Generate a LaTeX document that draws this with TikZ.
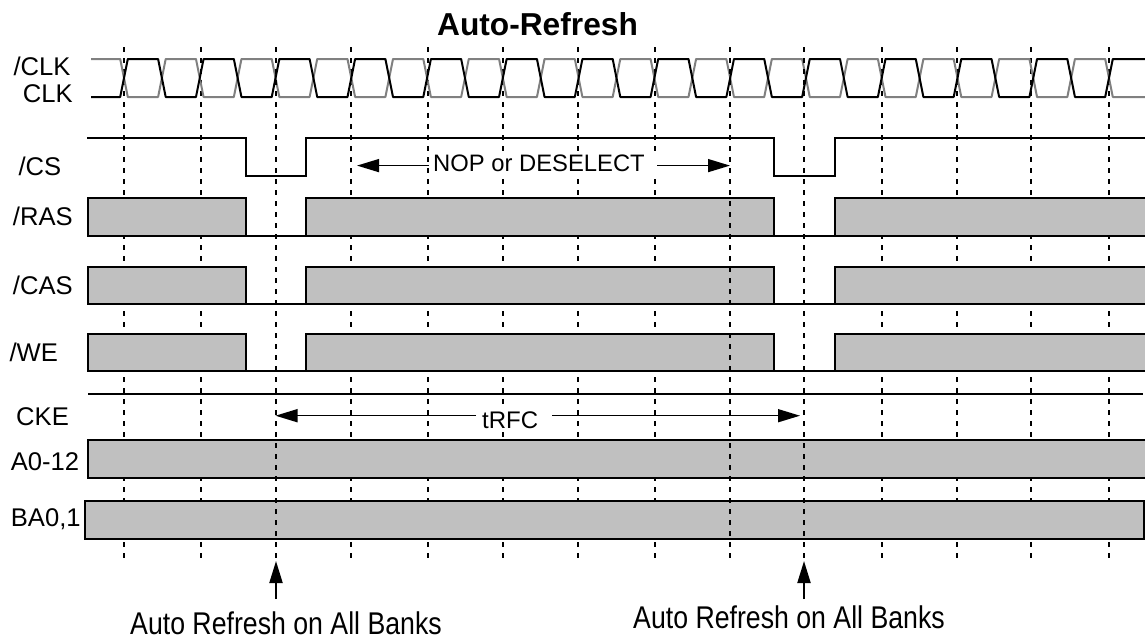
\documentclass[tikz,border=0pt]{standalone}
\usepackage{fontspec}
\setmainfont{Liberation Sans}
\newfontfamily\narrowsans[FakeStretch=0.85]{Liberation Sans}
\usetikzlibrary{arrows.meta}
\definecolor{busgray}{HTML}{C0C0C0}
\definecolor{clkgray}{HTML}{808080}
\begin{document}
\begin{tikzpicture}[x=1pt,y=-1pt,
  sig/.style={line width=2pt, line join=miter, black},
  clkb/.style={line width=2pt, line join=round, black},
  clkg/.style={line width=2pt, line join=round, clkgray},
  guide/.style={line width=1.2pt, black, dash pattern=on 5pt off 6pt},
  bus/.style={fill=busgray, draw=black, line width=2pt},
  thin/.style={line width=1.4pt, black},
  harr/.style={line width=1.5pt, -{Triangle[length=22pt,width=13pt]}},
  varr/.style={line width=2pt, -{Triangle[length=22pt,width=13pt]}},
  lbl/.style={anchor=base west, inner sep=0pt, font=\fontsize{25.6pt}{30pt}\selectfont},
  mid/.style={anchor=base west, fill=white, inner xsep=0pt, inner ysep=2pt, font=\fontsize{23.8pt}{28pt}\selectfont},
  big/.style={anchor=base west, inner sep=0pt, font=\narrowsans\fontsize{31.4pt}{36pt}\selectfont},
  ttl/.style={anchor=base, inner sep=0pt, font=\bfseries\fontsize{31.7pt}{36pt}\selectfont}
]
\useasboundingbox (0,0) rectangle (1145,637);

% guide lines behind the buses
\foreach \gx in {124,201,351,428,503,578,655,882,957,1031,1109}
  \draw[guide] (\gx,47) -- (\gx,561);

% clock pair
\def\P{75.77}\def\H{37.885}\def\h{3.8}
\draw[clkg] (91,59)
  \foreach \p in {0,...,12} {
    -- ({124+\p*\P-\h},59) -- ({124+\p*\P+\h},97)
    -- ({124+\p*\P+\H-\h},97) -- ({124+\p*\P+\H+\h},59) }
  -- ({1109-\h},59) -- ({1109+\h},97) -- (1145,97);
\draw[clkb] (91,97)
  \foreach \p in {0,...,12} {
    -- ({124+\p*\P-\h},97) -- ({124+\p*\P+\h},59)
    -- ({124+\p*\P+\H-\h},59) -- ({124+\p*\P+\H+\h},97) }
  -- ({1109-\h},97) -- ({1109+\h},59) -- (1145,59);

% /CS
\draw[sig] (87,138) -- (245.7,138) -- (245.7,176) -- (306,176) -- (306,138)
  -- (774,138) -- (774,176) -- (835,176) -- (835,138) -- (1146,138);

% /RAS /CAS /WE
\foreach \yt/\yb in {197.5/235.5, 266.7/304.3, 333.5/371} {
  \draw[bus] (88,\yt) rectangle (245.7,\yb);
  \draw[bus] (306,\yt) rectangle (774,\yb);
  \draw[bus] (835,\yt) rectangle (1149,\yb);
  \draw[sig] (245.7,\yb) -- (306,\yb);
  \draw[sig] (774,\yb) -- (835,\yb);
}

% CKE
\draw[thin] (88,394) -- (1143,394);

% A0-12, BA0,1
\draw[bus] (88,440) rectangle (1149,478);
\draw[bus] (85,501) rectangle (1143.5,539);

% guide lines in front
\foreach \gx in {276,730,804}
  \draw[guide] (\gx,47) -- (\gx,561);

% title
\node[ttl] (title) at (537.5,35) {Auto-Refresh};

% signal labels
\node[lbl] (lclkn) at (13.3,75) {/CLK};
\node[lbl] (lclk) at (22.7,102.3) {CLK};
\node[lbl] (lcs) at (18.3,175) {/CS};
\node[lbl] (lras) at (12.7,225) {/RAS};
\node[lbl] (lcas) at (12.7,294.3) {/CAS};
\node[lbl] (lwe) at (9.3,361.7) {/WE};
\node[lbl] (lcke) at (16,425) {CKE};
\node[lbl] (la) at (10.7,470) {A0-12};
\node[lbl] (lba) at (10.7,526.7) {BA0,1};

% NOP or DESELECT
\coordinate (nopL) at (357,165.6);
\coordinate (nopR) at (730,165.6);
\node[mid] (nop) at (429,171.7) {\hspace*{4pt}NOP or DESELECT\hspace*{12pt}};
\draw[harr] (nop.west |- nopL) -- (nopL);
\draw[harr] (nop.east |- nopR) -- (nopR);

% tRFC
\coordinate (rfcL) at (275.5,415.7);
\coordinate (rfcR) at (800,415.7);
\node[mid,font=\fontsize{24pt}{28pt}\selectfont] (rfc) at (476,428.3) {\hspace*{6pt}tRFC\hspace*{14pt}};
\draw[harr] (rfc.west |- rfcL) -- (rfcL);
\draw[harr] (rfc.east |- rfcR) -- (rfcR);

% auto refresh markers
\coordinate (up1b) at (276,599);
\coordinate (up1t) at (276,561);
\coordinate (up2b) at (804,599);
\coordinate (up2t) at (804,561);
\draw[varr] (up1b) -- (up1t);
\draw[varr] (up2b) -- (up2t);
\node[big] (ar1) at (130,634) {Auto Refresh on All Banks};
\node[big] (ar2) at (633,628.5) {Auto Refresh on All Banks};
\end{tikzpicture}
\end{document}
